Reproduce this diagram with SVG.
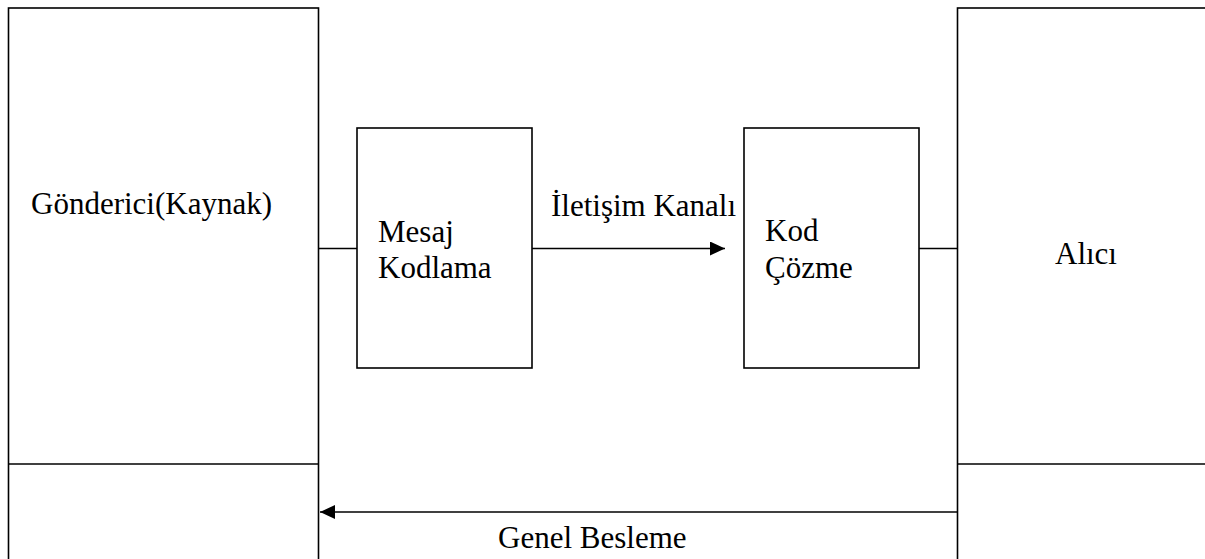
<svg xmlns="http://www.w3.org/2000/svg" width="1205" height="559" viewBox="0 0 1205 559" font-family="'Liberation Serif', 'Times New Roman', Times, serif">
  <style>
    .box { fill: #fff; stroke: #000; stroke-width: 1.6; }
    .ln { fill: none; stroke: #000; stroke-width: 1.6; }
    text { font-family: "Liberation Serif", "Times New Roman", Times, serif; font-size: 31px; fill: #000; }
  </style>
  <defs>
    <marker id="arrow" markerUnits="userSpaceOnUse" markerWidth="16" markerHeight="14" refX="15" refY="7" orient="auto">
      <path d="M0,0 L15,7 L0,14 Z" fill="#000"/>
    </marker>
  </defs>
  <rect width="1205" height="559" fill="#fff"/>

  <!-- sender -->
  <g id="sender">
    <rect class="box" x="8.5" y="8" width="310" height="570"/>
    <line class="ln" x1="8.5" y1="464" x2="318.5" y2="464"/>
    <text x="31" y="214" font-family="Liberation Serif, serif">Gönderici(Kaynak)</text>
  </g>

  <!-- receiver -->
  <g id="receiver">
    <rect class="box" x="957.5" y="8" width="270" height="570"/>
    <line class="ln" x1="957.5" y1="464" x2="1205" y2="464"/>
    <text x="1055" y="264" font-family="Liberation Serif, serif">Alıcı</text>
  </g>

  <!-- encoding -->
  <g id="encode">
    <rect class="box" x="357" y="128" width="175" height="240"/>
    <text x="378" y="242" font-family="Liberation Serif, serif">Mesaj</text>
    <text x="378" y="278" font-family="Liberation Serif, serif">Kodlama</text>
  </g>

  <!-- decoding -->
  <g id="decode">
    <rect class="box" x="744" y="128" width="175" height="240"/>
    <text x="765" y="241" font-family="Liberation Serif, serif">Kod</text>
    <text x="765" y="278" font-family="Liberation Serif, serif">Çözme</text>
  </g>

  <!-- connectors -->
  <g id="connectors">
    <line class="ln" x1="318.5" y1="248.5" x2="357" y2="248.5"/>
    <line class="ln" x1="532" y1="248.5" x2="725" y2="248.5" marker-end="url(#arrow)"/>
    <line class="ln" x1="919" y1="248.5" x2="957.5" y2="248.5"/>
    <line class="ln" x1="957.5" y1="512" x2="320" y2="512" marker-end="url(#arrow)"/>
    <text x="551" y="216" font-family="Liberation Serif, serif">İletişim Kanalı</text>
    <text x="498" y="548" font-family="Liberation Serif, serif">Genel Besleme</text>
  </g>
</svg>
